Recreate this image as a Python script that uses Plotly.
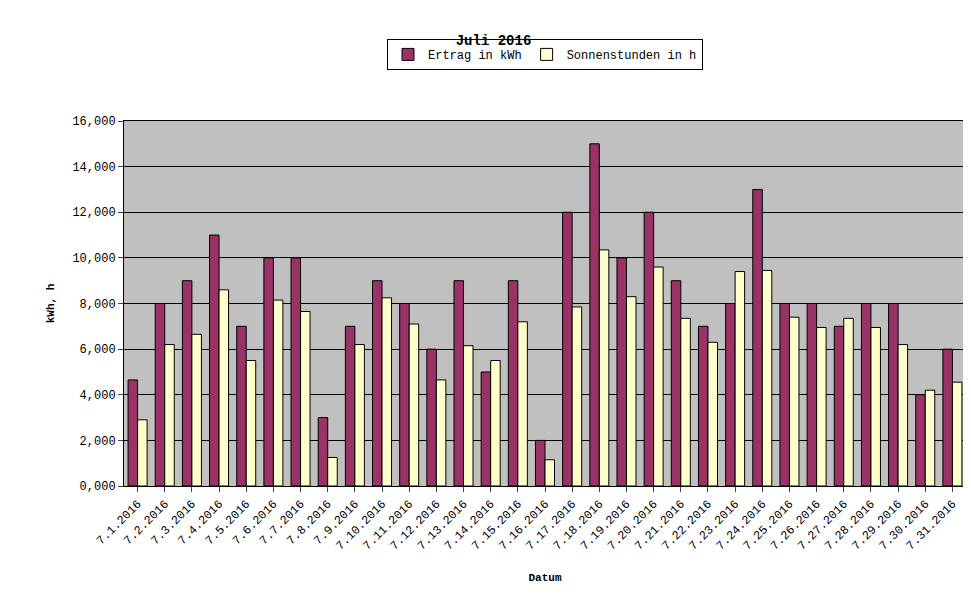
import plotly.graph_objects as go

dates = [f"7.{d}.2016" for d in range(1, 32)]
ertrag = [4.65, 8, 9, 11, 7, 10, 10, 3, 7, 9, 8, 6, 9, 5, 9, 2, 12, 15, 10, 12, 9, 7, 8, 13, 8, 8, 7, 8, 8, 4, 6]
sonne = [2.9, 6.2, 6.65, 8.6, 5.5, 8.15, 7.65, 1.25, 6.2, 8.25, 7.1, 4.65, 6.15, 5.5, 7.2, 1.15, 7.85, 10.35, 8.3, 9.6, 7.35, 6.3, 9.4, 9.45, 7.4, 6.95, 7.35, 6.95, 6.2, 4.2, 4.55]
tickvals = [0, 2, 4, 6, 8, 10, 12, 14, 16]
ticktext = ["0,000", "2,000", "4,000", "6,000", "8,000", "10,000", "12,000", "14,000", "16,000"]

font = "Liberation Mono, DejaVu Sans Mono, monospace"
fig = go.Figure()
fig.add_bar(x=dates, y=ertrag, name="Ertrag in kWh", marker=dict(color="#993366", line=dict(color="black", width=1)))
fig.add_bar(x=dates, y=sonne, name="Sonnenstunden in h", marker=dict(color="#FFFFCC", line=dict(color="black", width=1)))
fig.update_layout(
    width=971, height=605, paper_bgcolor="white", plot_bgcolor="#C0C0C0",
    font=dict(family=font, size=12, color="black"),
    title=dict(text="<b>Juli 2016</b>", x=0.5, xanchor="center", y=0.955, font=dict(size=14)),
    margin=dict(l=116, r=13, t=113, b=127),
    bargap=0.3, bargroupgap=0,
    legend=dict(orientation="h", x=0.5, xanchor="center", y=1.14, yanchor="bottom",
                bordercolor="black", borderwidth=1, bgcolor="white", font=dict(size=12)),
    xaxis=dict(title=dict(text="<b>Datum</b>", font=dict(size=11), standoff=20), tickangle=-45,
               showline=True, linecolor="black", mirror=True, ticks="outside", tickfont=dict(size=12)),
    yaxis=dict(title=dict(text="<b>kWh, h</b>", font=dict(size=11)), range=[0, 16], tickvals=tickvals, ticktext=ticktext,
               showgrid=True, gridcolor="black", gridwidth=1, showline=True, linecolor="black", mirror=True,
               ticks="outside", zeroline=False),
)
fig.write_html("out.html")
